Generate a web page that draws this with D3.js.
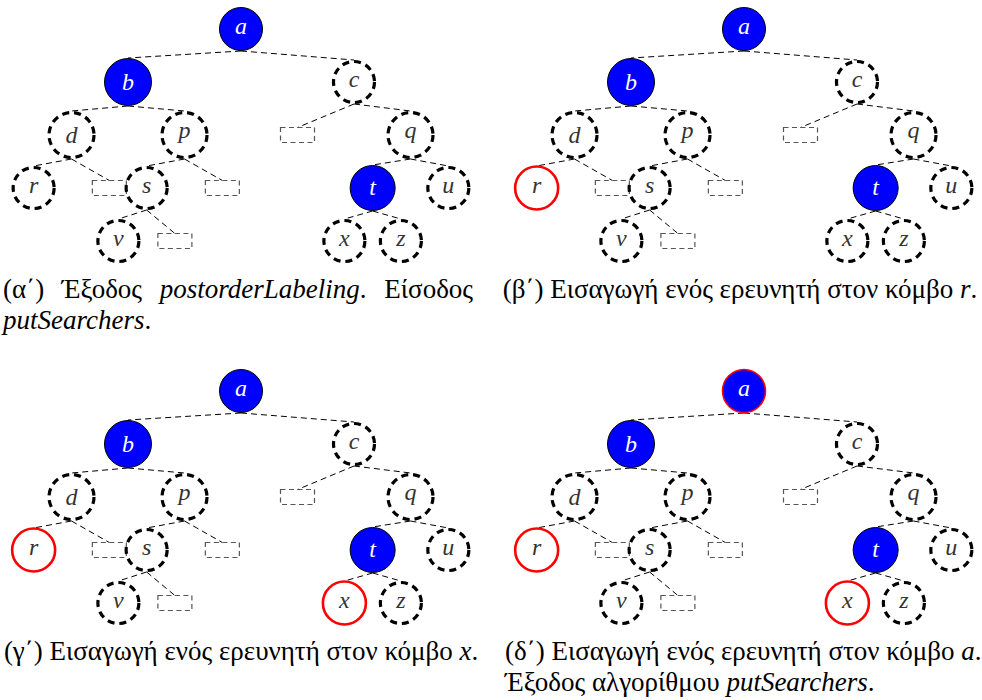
<!DOCTYPE html>
<html>
<head>
<meta charset="utf-8">
<script src="https://cdn.jsdelivr.net/npm/d3@7"></script>
</head>
<body style="margin:0">
<script>
// tree: parent, left child, right child (null = empty leaf box)
var branches = [
    ["a", "b", "c"],
    ["b", "d", "p"],
    ["c", null, "q"],
    ["d", "r", null],
    ["p", "s", null],
    ["q", "t", "u"],
    ["s", "v", null],
    ["t", "x", "z"]
];
var blueNodes = ["a", "b", "t"];
var tallLetters = ["b", "d", "p", "q", "t"];
// nodes holding a searcher in each sub-figure
var searchers = [[], ["r"], ["r", "x"], ["r", "x", "a"]];
var captions = [
    ["(α΄) Έξοδος *postorderLabeling*. Είσοδος", "*putSearchers*."],
    ["(β΄) Εισαγωγή ενός ερευνητή στον κόμβο *r*."],
    ["(γ΄) Εισαγωγή ενός ερευνητή στον κόμβο *x*."],
    ["(δ΄) Εισαγωγή ενός ερευνητή στον κόμβο *a*.", "Έξοδος αλγορίθμου *putSearchers*."]
];

var w = 982;
var h = 700;
var panelX = [0, 503, 0, 503];
var panelY = [0, 0, 362, 362];
var spread = [2, 1, 0.67, 0.5];   // half sibling distance per depth
var captionX = [[3, 3], [740], [241], [505, 505]];
var captionAnchor = ["start", "middle", "middle", "start"];
var captionY = [[298, 329], [298], [660], [660, 691]];
var captionWordSpace = [[11, 0], [0], [0], [0, 0]];

var childMap = {};
branches.forEach(function(b){ childMap[b[0]] = [b[1], b[2]]; });

function build(name){
    if (name === null) return {name: null};
    var kids = childMap[name];
    return {name: name, children: kids ? kids.map(build) : undefined};
}
var root = d3.hierarchy(build("a"));
root.each(function(d){
    if (!d.parent) { d.u = 0; return; }
    var side = d.parent.children.indexOf(d) === 0 ? -1 : 1;
    d.u = d.parent.u + side * spread[d.depth - 1];
});

var xScale = d3.scaleLinear().domain([-4, 4]).range([15, 467]);
var yScale = d3.scaleLinear().domain([0, 4]).range([29, 241]);

function radius(d){
    if (d.data.name === "t") return 23;
    return tallLetters.indexOf(d.data.name) >= 0 ? 24 : 22;
}
function baseShift(name){
    if (name === "b" || name === "d") return 7.8;
    if (name === "t") return 6.7;
    if (name === "p" || name === "q") return 2.6;
    return 5;
}

var svg = d3.select("body")
    .append("svg")
    .attr("width", w)
    .attr("height", h);

svg.append("rect").attr("width", w).attr("height", h).attr("fill", "#fff");

searchers.forEach(function(held, i){
    var g = svg.append("g")
        .attr("transform", `translate(${panelX[i]},${panelY[i]})`);

    g.selectAll("line")
        .data(root.links())
        .enter()
        .append("line")
        .attr("stroke", "#000")
        .attr("stroke-width", 1)
        .attr("stroke-dasharray", "6,4")
        .attr("x1", function(l){ return xScale(l.source.u); })
        .attr("y1", function(l){ return yScale(l.source.depth) + radius(l.source); })
        .attr("x2", function(l){ return xScale(l.target.u); })
        .attr("y2", function(l){
            var top = l.target.data.name === null ? 7.5 : radius(l.target);
            return yScale(l.target.depth) - top;
        });

    g.selectAll("rect")
        .data(root.descendants().filter(function(d){ return d.data.name === null; }))
        .enter()
        .append("rect")
        .attr("fill", "none")
        .attr("stroke", "#555")
        .attr("stroke-width", 1.2)
        .attr("stroke-dasharray", "5,3.5")
        .attr("x", function(d){ return xScale(d.u) - 17; })
        .attr("y", function(d){ return yScale(d.depth) - 7.5; })
        .attr("width", 34)
        .attr("height", 15);

    var named = root.descendants().filter(function(d){ return d.data.name !== null; });

    g.selectAll("circle")
        .data(named)
        .enter()
        .append("circle")
        .attr("cx", function(d){ return xScale(d.u); })
        .attr("cy", function(d){ return yScale(d.depth); })
        .attr("r", function(d){
            var n = d.data.name;
            if (blueNodes.indexOf(n) < 0 && held.indexOf(n) >= 0) return 21.5;
            return radius(d) - (blueNodes.indexOf(n) >= 0 ? 0.5 : 1.5);
        })
        .attr("fill", function(d){ return blueNodes.indexOf(d.data.name) >= 0 ? "#0000ff" : "none"; })
        .attr("stroke", function(d){
            return held.indexOf(d.data.name) >= 0 ? "#ff0000" : "#000";
        })
        .attr("stroke-width", function(d){
            var n = d.data.name;
            if (blueNodes.indexOf(n) >= 0) return held.indexOf(n) >= 0 ? 1.5 : 1;
            return held.indexOf(n) >= 0 ? 2.6 : 3.2;
        })
        .attr("stroke-dasharray", function(d){
            var n = d.data.name;
            return (blueNodes.indexOf(n) < 0 && held.indexOf(n) < 0) ? "7,5" : null;
        });

    g.selectAll("text")
        .data(named)
        .enter()
        .append("text")
        .attr("x", function(d){ return xScale(d.u); })
        .attr("y", function(d){ return yScale(d.depth) + baseShift(d.data.name); })
        .attr("font-family", "Liberation Serif")
        .attr("font-style", "italic")
        .attr("font-size", 24)
        .attr("text-anchor", "middle")
        .attr("fill", function(d){ return blueNodes.indexOf(d.data.name) >= 0 ? "#fff" : "#333"; })
        .text(function(d){ return d.data.name; });

    captions[i].forEach(function(line, j){
        var t = svg.append("text")
            .attr("x", captionX[i][j])
            .attr("y", captionY[i][j])
            .attr("font-family", "Liberation Serif")
            .attr("font-size", 27)
            .attr("word-spacing", captionWordSpace[i][j])
            .attr("fill", "#000")
            .attr("text-anchor", captionAnchor[i]);
        line.split("*").forEach(function(part, k){
            if (part === "") return;
            t.append("tspan")
                .attr("font-style", k % 2 === 1 ? "italic" : "normal")
                .text(part);
        });
    });
});
</script>
</body>
</html>
